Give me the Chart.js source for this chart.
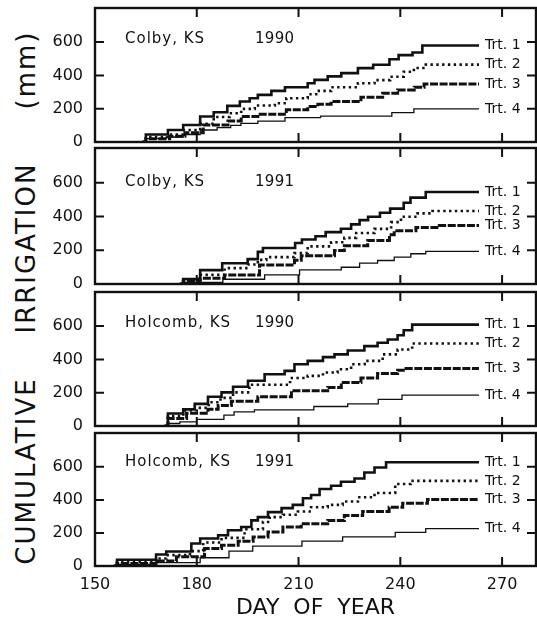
<!DOCTYPE html>
<html>
<head>
<meta charset="utf-8">
<script src="https://cdn.jsdelivr.net/npm/chart.js@4/dist/chart.umd.min.js"></script>
<style>
  html, body { margin: 0; padding: 0; background: #fff; }
  #wrap { position: relative; width: 537px; height: 626px; overflow: hidden; background: #fff; }
  #wrap canvas { position: absolute; left: 0; }
  .ytitle {
    position: absolute; left: 26px; white-space: nowrap; color: #111;
    font-family: "DejaVu Sans", sans-serif; font-size: 26px; letter-spacing: 2px;
    transform: translate(-50%, -50%) rotate(-90deg);
  }
</style>
</head>
<body>
<div id="wrap">
  <div class="ytitle" style="top:471px">CUMULATIVE</div>
  <div class="ytitle" style="top:248px">IRRIGATION</div>
  <div class="ytitle" style="top:70px">(mm)</div>
</div>
<script>
// Axis ticks and labels
const X_TICKS = [150, 180, 210, 240, 270];
const Y_TICKS = [0, 200, 400, 600];
const TRT_NAMES = ['Trt. 1', 'Trt. 2', 'Trt. 3', 'Trt. 4'];
const PLACES = ['Colby, KS', 'Colby, KS', 'Holcomb, KS', 'Holcomb, KS'];
const YEARS = ['1990', '1991', '1990', '1991'];

// Cumulative irrigation, [day of year, mm]
const colby1990Trt1 = [[164,0],[165,45],[171.5,72],[176,102],[181,153],[185,179],[189,217],[192.7,243],[195.6,263],[198,283],[202,307],[206,329],[212.7,353],[214.7,373],[218.6,394],[222.6,414],[227.5,444],[232,464],[236.8,497],[239.5,522],[243.6,538],[246.5,580],[263.2,580]];
const colby1990Trt2 = [[164,0],[165,30],[171.5,45],[176,72],[181,110],[185,150],[189.7,173],[193.1,199],[197.1,219],[203,233],[206.4,263],[212.7,287],[215.2,307],[219.6,329],[227.5,353],[232.4,372],[237,392],[241,422],[244,445],[247.5,465],[263.2,465]];
const colby1990Trt3 = [[164,0],[165,20],[172,35],[176.5,55],[181.9,102],[189.2,126],[193.1,153],[198,167],[206.4,193],[212.7,213],[215.7,227],[219.6,243],[228.4,269],[234.8,293],[239.2,313],[244.1,329],[247,349],[263.2,349]];
const colby1990Trt4 = [[164,0],[165,20],[171,30],[176,45],[181,72],[186,86],[190,100],[193,112],[198,126],[206,147],[216.5,155],[237.5,177],[244,199],[263.2,199]];

const colby1991Trt1 = [[175,0],[176,30],[181,82],[187.5,123],[195,147],[198,190],[199.5,213],[209,243],[211,263],[215,283],[218,307],[222.5,327],[225.5,353],[228,378],[230.5,398],[234,422],[237,446],[241,481],[243,511],[247.5,545],[263.2,545]];
const colby1991Trt2 = [[175,0],[176,25],[181,54],[188.2,94],[195,115],[198,143],[200.5,159],[208.8,183],[212.7,223],[219.6,247],[223.5,273],[227,302],[232.4,326],[237.3,366],[240.2,398],[245.1,418],[249.5,432],[263.2,432]];
const colby1991Trt3 = [[175,0],[176,15],[181,34],[188.2,54],[198.5,113],[208.8,140],[210.8,167],[220.6,199],[223.5,227],[230.4,257],[236.8,292],[238.2,315],[244.6,335],[251.5,346],[263.2,346]];
const colby1991Trt4 = [[175,0],[176,10],[187.7,28],[200,54],[210.3,84],[222.6,99],[228,123],[233.3,139],[238.2,159],[243.1,179],[247.5,193],[263.2,193]];

const holcomb1990Trt1 = [[170.5,0],[171.5,75],[176,100],[179.4,133],[183.3,176],[187.3,202],[190.7,236],[195.1,272],[200,311],[205.9,331],[208.8,371],[212.7,391],[217.2,414],[220.6,430],[224.5,454],[229.4,480],[233.3,500],[236.3,520],[239.2,545],[241,575],[243.5,609],[263.2,609]];
const holcomb1990Trt2 = [[170.5,0],[171.5,60],[176,93],[180,109],[183.5,143],[187,169],[190.7,202],[195.5,248],[207.5,288],[212.7,301],[217.2,321],[221.5,341],[225.5,371],[229.5,391],[234.8,430],[239.2,460],[243.5,496],[263.2,496]];
const holcomb1990Trt3 = [[170.5,0],[171.5,45],[177,77],[183.3,100],[186.3,123],[190.2,149],[198,176],[207.9,212],[218.6,232],[222.6,262],[228.4,288],[233.3,315],[239.2,335],[241.7,345],[263.2,345]];
const holcomb1990Trt4 = [[170.5,0],[171.5,15],[175,25],[180,40],[188,65],[191,85],[197,97],[214.5,117],[224.5,133],[233.5,160],[240.5,186],[263.2,186]];

const holcomb1991Trt1 = [[155.5,0],[156.5,38],[168,70],[171,88],[178.4,136],[181,166],[186.3,186],[189.2,216],[193.1,236],[196.1,276],[198,296],[201,326],[205,350],[208.3,370],[211.3,410],[213.7,430],[216.2,466],[219.6,486],[222.5,510],[226.5,530],[229.4,566],[232.4,596],[235.8,628],[263.2,628]];
const holcomb1991Trt2 = [[155.5,0],[156.5,25],[168,45],[171.1,66],[178,90],[181.9,142],[187.3,170],[194.1,222],[199.5,266],[201.5,296],[205.4,310],[209.8,330],[213.7,356],[218.6,370],[223,390],[227.5,416],[232.4,442],[238.5,496],[243.1,515],[263.2,515]];
const holcomb1991Trt3 = [[155.5,0],[156.5,15],[168,30],[174,56],[182.3,106],[187.3,126],[192.2,150],[196.6,176],[201,206],[205.4,236],[210.8,256],[218.6,276],[223.5,306],[228.9,330],[236.7,356],[240.7,380],[248,402],[263.2,402]];
const holcomb1991Trt4 = [[155.5,0],[156.5,10],[168,20],[181,50],[189.5,90],[196.5,120],[211,150],[223,176],[238.5,204],[247.5,226],[263.2,226]];

const PANEL_SERIES = [
  [colby1990Trt1, colby1990Trt2, colby1990Trt3, colby1990Trt4],
  [colby1991Trt1, colby1991Trt2, colby1991Trt3, colby1991Trt4],
  [holcomb1990Trt1, holcomb1990Trt2, holcomb1990Trt3, holcomb1990Trt4],
  [holcomb1991Trt1, holcomb1991Trt2, holcomb1991Trt3, holcomb1991Trt4]
];

// Layout and styling
const INK = '#111';
const W = 537, H = 626;
const PANEL_BOX = [[8, 142], [148, 284], [292, 426], [433, 566]];
const PAD = 10, PLOT_LEFT = 95, PLOT_RIGHT = 536;
const TREATMENT_STYLE = [
  { borderWidth: 2.6, borderDash: [] },
  { borderWidth: 2.6, borderDash: [2.4, 3.4] },
  { borderWidth: 3.0, borderDash: [8, 1.6] },
  { borderWidth: 1.3, borderDash: [] }
];
const TICK_FONT = { family: 'DejaVu Sans', size: 16 };

// Box around each panel with inward tick marks on all four sides
const framePlugin = {
  id: 'frame',
  afterDatasetsDraw(chart) {
    const { ctx, chartArea: a, scales: { x, y } } = chart;
    const len = 9;
    ctx.save();
    ctx.strokeStyle = INK;
    ctx.lineWidth = 2.4;
    ctx.strokeRect(a.left, a.top, a.right - a.left, a.bottom - a.top);
    ctx.lineWidth = 2;
    ctx.beginPath();
    X_TICKS.forEach(v => {
      const px = x.getPixelForValue(v);
      if (px <= a.left + 2 || px >= a.right - 2) return;
      ctx.moveTo(px, a.bottom); ctx.lineTo(px, a.bottom - len);
      ctx.moveTo(px, a.top); ctx.lineTo(px, a.top + len);
    });
    Y_TICKS.forEach(v => {
      const py = y.getPixelForValue(v);
      if (py >= a.bottom - 2 || py <= a.top + 2) return;
      ctx.moveTo(a.left, py); ctx.lineTo(a.left + len, py);
      ctx.moveTo(a.right, py); ctx.lineTo(a.right - len, py);
    });
    ctx.stroke();
    ctx.restore();
  }
};

// Site / year caption and treatment labels at the end of each line
const textPlugin = {
  id: 'panelText',
  afterDraw(chart, args, opts) {
    const { ctx, chartArea: a } = chart;
    ctx.save();
    ctx.fillStyle = INK;
    ctx.textBaseline = 'middle';
    ctx.textAlign = 'left';
    ctx.font = '15px "DejaVu Sans"';
    ctx.letterSpacing = '1px';
    ctx.fillText(opts.place, a.left + 30, a.top + opts.captionDy);
    ctx.letterSpacing = '0.3px';
    ctx.fillText(opts.year, a.left + 160, a.top + opts.captionDy);
    ctx.letterSpacing = '0px';
    ctx.font = '14px "DejaVu Sans"';
    chart.data.datasets.forEach((ds, i) => {
      const pts = chart.getDatasetMeta(i).data;
      const end = pts[pts.length - 1];
      ctx.fillText(ds.label, end.x + 6, end.y);
    });
    ctx.restore();
  }
};

const wrap = document.getElementById('wrap');
const CAPTION_DY = [31, 34, 31, 29];

PANEL_BOX.forEach(([top, bottom], i) => {
  const isLast = i === PANEL_BOX.length - 1;
  const cTop = top - PAD;
  const cH = isLast ? H - cTop : bottom - top + 2 * PAD;
  const canvas = document.createElement('canvas');
  canvas.width = W; canvas.height = cH;
  canvas.style.top = cTop + 'px';
  canvas.style.width = W + 'px';
  canvas.style.height = cH + 'px';
  wrap.appendChild(canvas);

  const datasets = PANEL_SERIES[i].map((series, k) => ({
    label: TRT_NAMES[k],
    data: series,
    stepped: true,
    borderColor: INK,
    backgroundColor: INK,
    borderWidth: TREATMENT_STYLE[k].borderWidth,
    borderDash: TREATMENT_STYLE[k].borderDash,
    borderCapStyle: 'butt',
    borderJoinStyle: 'miter',
    pointRadius: 0,
    fill: false
  }));

  new Chart(canvas, {
    type: 'line',
    data: { datasets },
    plugins: [framePlugin, textPlugin],
    options: {
      responsive: false,
      animation: false,
      devicePixelRatio: 1,
      layout: { padding: { top: PAD, bottom: isLast ? 0 : PAD, left: 0, right: W - PLOT_RIGHT } },
      plugins: {
        legend: { display: false },
        tooltip: { enabled: false },
        panelText: { place: PLACES[i], year: YEARS[i], captionDy: CAPTION_DY[i] }
      },
      scales: {
        x: {
          type: 'linear',
          min: 150, max: 280,
          display: isLast,
          afterBuildTicks: s => { s.ticks = X_TICKS.map(v => ({ value: v })); },
          afterFit: s => {
            if (isLast) s.height = H - bottom;
            s.paddingLeft = 0; s.paddingRight = 0;
          },
          grid: { display: false, drawTicks: false },
          border: { display: false },
          ticks: { color: INK, font: TICK_FONT, padding: 9, maxRotation: 0, autoSkip: false },
          title: {
            display: true,
            text: 'DAY  OF  YEAR',
            color: INK,
            font: { family: 'DejaVu Sans', size: 22 },
            padding: { top: 0, bottom: 5 }
          }
        },
        y: {
          type: 'linear',
          min: 0, max: 805,
          afterBuildTicks: s => { s.ticks = Y_TICKS.map(v => ({ value: v })); },
          afterFit: s => { s.width = PLOT_LEFT; s.paddingTop = 0; s.paddingBottom = 0; },
          grid: { display: false, drawTicks: false },
          border: { display: false },
          ticks: { color: INK, font: TICK_FONT, padding: 12 }
        }
      }
    }
  });
});
</script>
</body>
</html>
